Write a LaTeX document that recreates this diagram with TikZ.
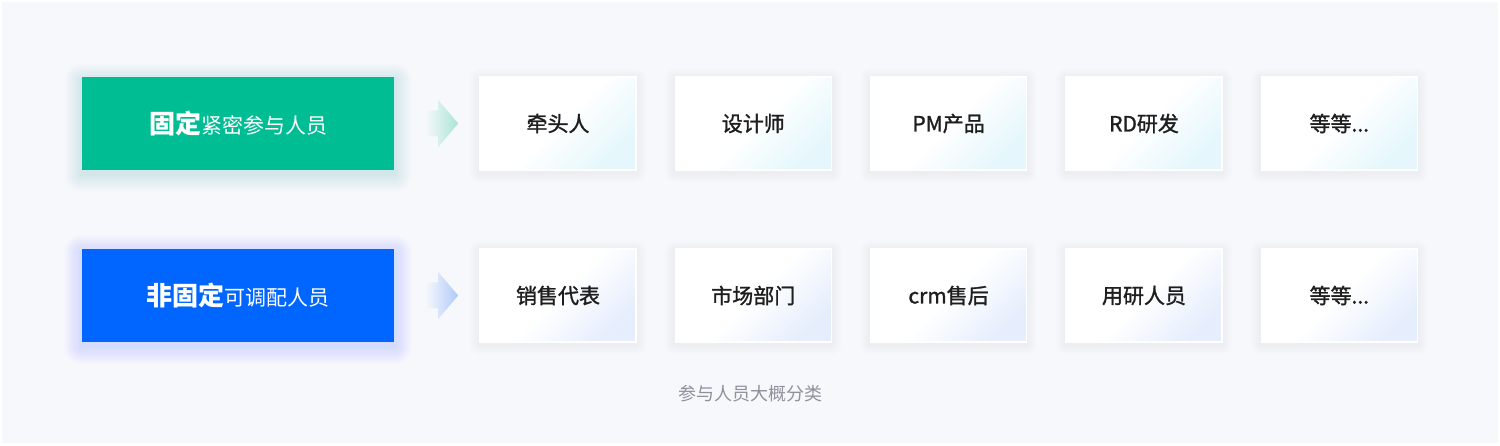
\documentclass[tikz,border=0pt]{standalone}
\usepackage{fontspec}
\setmainfont{Noto Sans CJK SC}
\usetikzlibrary{calc}
\definecolor{bgc}{HTML}{F7F8FC}
\definecolor{fixgreen}{HTML}{00BD94}
\definecolor{flexblue}{HTML}{0066FF}
\definecolor{arrgreen}{HTML}{A9E5D5}
\definecolor{arrblue}{HTML}{B0C9FA}
\definecolor{tintcyan}{HTML}{E5F7FC}
\definecolor{tintblue}{HTML}{E6EEFD}
\definecolor{cardtext}{HTML}{1E1E1E}
\definecolor{captiongray}{HTML}{8E919C}
\definecolor{cardglow}{HTML}{C5CBE0}
\font\cardf="Noto Sans CJK SC:embolden=1.3" at 21pt
\pgfdeclarelayer{back}
\pgfsetlayers{back,main}
\tikzset{
  headbox/.style={rectangle, minimum width=312pt, minimum height=93pt, inner sep=0pt, text=white},
  cardbase/.style={rectangle, minimum width=156pt, minimum height=93pt, inner sep=0pt, draw=white, line width=1.2pt,
     text=cardtext, font=\cardf},
  cardA/.style={cardbase, top color=white, bottom color=tintcyan, middle color=white, shading angle=45},
  cardB/.style={cardbase, top color=white, bottom color=tintblue, middle color=white, shading angle=45},
  caption/.style={text=captiongray, font=\fontsize{18}{18}\selectfont}
}
\newcommand{\glowbox}[5]{% node, color, steps, opacity, yshift
  \foreach \i in {1,...,#3}{
    \fill[#2, opacity=#4, rounded corners=\i pt] ($(#1.north west)+(-\i,-\i+#5)$) rectangle ($(#1.south east)+(\i,\i+#5)$);
  }
}
\begin{document}
\begin{tikzpicture}[x=1pt,y=-1pt]
\useasboundingbox (0,0) rectangle (1500,446);

% head boxes
\node[headbox, fill=fixgreen] (g) at (238,123.5)
  {{\fontsize{26}{26}\selectfont\bfseries 固定}{\fontsize{21}{21}\selectfont 紧密参与人员}};
\node[headbox, fill=flexblue] (b) at (238,295.5)
  {{\fontsize{26}{26}\selectfont\bfseries 非固定}{\fontsize{21}{21}\selectfont 可调配人员}};

% cards row 1
\node[cardA] (a1) at (558,123.5) {牵头人};
\node[cardA] (a2) at (753.3,123.5) {设计师};
\node[cardA] (a3) at (948.6,123.5) {PM产品};
\node[cardA] (a4) at (1144,123.5) {RD研发};
\node[cardA] (a5) at (1339.3,123.5) {等等...};
% cards row 2
\node[cardB] (b1) at (558,295.5) {销售代表};
\node[cardB] (b2) at (753.3,295.5) {市场部门};
\node[cardB] (b3) at (948.6,295.5) {crm售后};
\node[cardB] (b4) at (1144,295.5) {用研人员};
\node[cardB] (b5) at (1339.3,295.5) {等等...};

% caption
\node[caption] (cap) at (750,394) {参与人员大概分类};

\begin{pgfonlayer}{back}
  \fill[white] (0,0) rectangle (1500,446);
  \fill[bgc] (2,2) rectangle (1498,443);
  \glowbox{g}{fixgreen}{18}{0.007}{4}
  \glowbox{b}{flexblue}{18}{0.007}{4}
  \foreach \n in {a1,a2,a3,a4,a5,b1,b2,b3,b4,b5}{
    \glowbox{\n}{cardglow}{10}{0.008}{2}
  }
\end{pgfonlayer}

% arrows
\shade[left color=bgc, right color=arrgreen]
  ($(g.east)+(31,-13)$) -- ($(g.east)+(44,-13)$) -- ($(g.east)+(44,-23.5)$) -- ($(g.east)+(64,0)$)
  -- ($(g.east)+(44,23.5)$) -- ($(g.east)+(44,13)$) -- ($(g.east)+(31,13)$) -- cycle;
\shade[left color=bgc, right color=arrblue]
  ($(b.east)+(31,-13)$) -- ($(b.east)+(44,-13)$) -- ($(b.east)+(44,-23.5)$) -- ($(b.east)+(64,0)$)
  -- ($(b.east)+(44,23.5)$) -- ($(b.east)+(44,13)$) -- ($(b.east)+(31,13)$) -- cycle;
\end{tikzpicture}
\end{document}
